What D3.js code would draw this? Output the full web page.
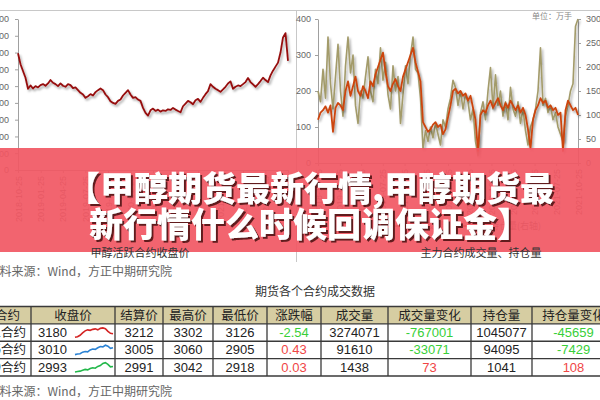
<!DOCTYPE html>
<html>
<head>
<meta charset="utf-8">
<script src="https://cdn.jsdelivr.net/npm/d3@7"></script>
<style>
    body { margin: 0; background: #fff; }
    svg { display: block; font-family: "Noto Sans CJK SC", sans-serif; }
    .axis path, .axis line { stroke: #a0a0a0; }
    .axis text { fill: #666; font-size: 9px; font-family: "Liberation Sans", Arial, sans-serif; }
</style>
<title></title>
</head>
<body>
<svg id="chart" width="600" height="400"></svg>
<script>
    // ---- data ----
    var quarterLabels = ['2018-10-25', '2019-01-25', '2019-04-25', '2019-07-25', '2019-10-25',
        '2020-01-25', '2020-04-25', '2020-07-25', '2020-10-25', '2021-01-25', '2021-04-25',
        '2021-07-25', '2021-10-25'];

    // 甲醇活跃合约收盘价
    var priceValues = [3480, 3150, 2950, 2750, 2420, 2520, 2430, 2500, 2460, 2530,
        2560, 2510, 2580, 2680, 2600, 2560, 2500, 2580, 2510, 2480,
        2560, 2530, 2440, 2460, 2380, 2300, 2250, 2150, 2200, 2260,
        2220, 2320, 2380, 2430, 2380, 2250, 2170, 2050, 2000, 1970,
        2060, 2100, 2220, 2300, 2380, 2250, 2150, 2170, 2100, 2060,
        1850, 1700, 1620, 1780, 1830, 1760, 1800, 1740, 1780, 1760,
        1810, 1790, 1850, 1800, 1760, 1720, 1900, 1980, 2060, 2020,
        1960, 2080, 2120, 2030, 2150, 2260, 2350, 2560, 2480, 2420,
        2380, 2330, 2400, 2480, 2580, 2640, 2420, 2480, 2520, 2500,
        2560, 2620, 2740, 2620, 2550, 2480, 2560, 2650, 2750, 2680,
        2620, 2820, 2960, 3080, 3200, 3500, 3950, 4080, 3250];

    // 主力合约成交量 (左轴, 万手)
    var volumeValues = [200, 170, 260, 180, 350, 220, 150, 240, 330, 200,
        130, 270, 350, 250, 300, 160, 110, 200, 180, 240,
        295, 200, 170, 260, 220, 320, 230, 280, 190, 150,
        270, 200, 240, 110, 190, 270, 220, 300, 350, 260,
        250, 180, 40, 90, 60, 100, 70, 110, 80, 50,
        120, 100, 150, 180, 230, 210, 160, 200, 150, 190,
        170, 120, 150, 60, 20, 140, 170, 120, 200, 265,
        150, 245, 160, 200, 130, 170, 120, 210, 150, 130,
        170, 110, 150, 90, 50, 100, 120, 150, 200, 320,
        160, 180, 140, 160, 120, 140, 100, 80, 60, 130,
        160, 200, 220, 380, 400];

    // 主力合约持仓量 (右轴, 万手)
    var holdValues = [90, 105, 110, 118, 105, 120, 65, 115, 125, 120,
        110, 150, 170, 140, 160, 180, 150, 140, 160, 150,
        135, 170, 160, 185, 200, 215, 230, 190, 160, 150,
        165, 175, 160, 150, 180, 195, 210, 225, 240, 210,
        190, 170, 85, 75, 65, 70, 80, 85, 75, 80,
        60, 70, 95, 120, 150, 155, 145, 150, 140, 145,
        130, 140, 115, 90, 25, 100, 110, 105, 120, 130,
        115, 125, 135, 120, 110, 125, 115, 130, 120, 110,
        120, 105, 115, 100, 70, 30, 90, 110, 120, 135,
        125, 130, 115, 120, 110, 115, 100, 105, 25, 110,
        130, 120, 110, 115, 100];

    // 期货各个合约成交数据
    var tableHeaders = ['合约', '收盘价', '结算价', '最高价', '最低价', '涨跌幅', '成交量', '成交量变化', '持仓量', '持仓量变化'];
    var contracts = ['2201合约', '2205合约', '2209合约'];
    var closePrices = [3180, 3010, 2993];
    var settlePrices = [3212, 3005, 2991];
    var highPrices = [3302, 3060, 3042];
    var lowPrices = [3126, 2905, 2918];
    var changePct = ['-2.54', '0.43', '0.03'];
    var volumes = [3274071, 91610, 1438];
    var volumeChanges = [-767001, -33071, 73];
    var holds = [1045077, 94095, 1041];
    var holdChanges = [-45659, -7429, 108];

    var sparkRed = [3000, 3010, 3040, 3090, 3130, 3150, 3140, 3160, 3170, 3150, 3180, 3190, 3175, 3120, 3080, 3070];
    var sparkBlue = [2700, 2720, 2730, 2780, 2800, 2790, 2850, 2880, 2870, 2920, 2960, 2950, 3000, 2970, 2900, 2920];
    var sparkGreen = [2700, 2710, 2720, 2740, 2760, 2750, 2780, 2800, 2790, 2830, 2850, 2900, 2920, 2880, 2820, 2830];

    // ---- setup ----
    var svg = d3.select('#chart');
    var parse = d3.timeParse('%Y-%m-%d');
    var fmt = d3.timeFormat('%Y-%m-%d');
    var quarterDates = quarterLabels.map(parse);
    var dateStart = quarterDates[0], dateEnd = quarterDates[quarterDates.length - 1];

    function withDates(values) {
        var step = (dateEnd - dateStart) / (values.length - 1);
        return values.map(function(v, i) {
            return { date: new Date(+dateStart + i * step), value: v };
        });
    }

    var defs = svg.append('defs');
    defs.append('filter').attr('id', 'lineShadow')
        .attr('x', '-5%').attr('y', '-5%').attr('width', '110%').attr('height', '120%')
        .append('feDropShadow')
        .attr('dx', 1.5).attr('dy', 2).attr('stdDeviation', 1)
        .attr('flood-color', '#000').attr('flood-opacity', 0.35);
    defs.append('filter').attr('id', 'textShadow')
        .append('feDropShadow')
        .attr('dx', 2).attr('dy', 2).attr('stdDeviation', 0.6)
        .attr('flood-color', '#4a1010').attr('flood-opacity', 0.85);

    // panel borders
    svg.append('line').attr('x1', 0).attr('x2', 600).attr('y1', 10.5).attr('y2', 10.5)
        .attr('stroke', '#c8c8c8');
    svg.append('line').attr('x1', 296.5).attr('x2', 296.5).attr('y1', 10.5).attr('y2', 262)
        .attr('stroke', '#c8c8c8');

    // ---- left chart: 甲醇活跃合约收盘价 ----
    var x1 = d3.scaleTime().domain([dateStart, dateEnd]).range([18, 288]);
    var y1 = d3.scaleLinear().domain([0, 4500]).range([170, 19]);

    svg.append('g').attr('class', 'axis')
        .attr('transform', 'translate(18,0)')
        .call(d3.axisLeft(y1).tickValues(d3.range(0, 4501, 500)).tickSize(3).tickSizeOuter(0).tickPadding(6));

    svg.append('g').attr('class', 'axis')
        .attr('transform', 'translate(0,170)')
        .call(d3.axisBottom(x1).tickValues(quarterDates).tickFormat(fmt).tickSize(3).tickSizeOuter(0))
        .selectAll('text')
        .attr('x', -6).attr('y', 0).attr('dy', '0.35em')
        .attr('transform', 'rotate(-90)')
        .style('text-anchor', 'end');

    svg.append('path')
        .datum(withDates(priceValues))
        .attr('fill', 'none')
        .attr('stroke', '#960f0f')
        .attr('stroke-width', 1.8)
        .attr('stroke-linejoin', 'round')
        .attr('filter', 'url(#lineShadow)')
        .attr('d', d3.line().x(function(d) { return x1(d.date); }).y(function(d) { return y1(d.value); }));

    // ---- right chart: 主力合约成交量、持仓量 ----
    var x2 = d3.scaleTime().domain([dateStart, dateEnd]).range([318, 578]);
    var y2 = d3.scaleLinear().domain([0, 400]).range([163, 19]);
    var y2r = d3.scaleLinear().domain([0, 300]).range([163, 19]);

    svg.append('g').attr('class', 'axis')
        .attr('transform', 'translate(318,0)')
        .call(d3.axisLeft(y2).tickValues(d3.range(0, 401, 100)).tickSize(3).tickSizeOuter(0).tickPadding(4));

    svg.append('g').attr('class', 'axis')
        .attr('transform', 'translate(578,0)')
        .call(d3.axisRight(y2r).tickValues(d3.range(0, 301, 50)).tickSize(3).tickSizeOuter(0).tickPadding(5));

    svg.append('g').attr('class', 'axis')
        .attr('transform', 'translate(0,163)')
        .call(d3.axisBottom(x2).tickValues(quarterDates).tickFormat(fmt).tickSize(3).tickSizeOuter(0))
        .selectAll('text')
        .attr('x', -6).attr('y', 0).attr('dy', '0.35em')
        .attr('transform', 'rotate(-90)')
        .style('text-anchor', 'end');

    svg.append('path')
        .datum(withDates(volumeValues))
        .attr('fill', 'none')
        .attr('stroke', '#a39b6a')
        .attr('stroke-width', 1.6)
        .attr('stroke-linejoin', 'round')
        .attr('filter', 'url(#lineShadow)')
        .attr('d', d3.line().x(function(d) { return x2(d.date); }).y(function(d) { return y2(d.value); }));

    svg.append('path')
        .datum(withDates(holdValues))
        .attr('fill', 'none')
        .attr('stroke', '#cc4510')
        .attr('stroke-width', 1.8)
        .attr('stroke-linejoin', 'round')
        .attr('filter', 'url(#lineShadow)')
        .attr('d', d3.line().x(function(d) { return x2(d.date); }).y(function(d) { return y2r(d.value); }));

    svg.append('text').attr('x', 572).attr('y', 19)
        .attr('text-anchor', 'end')
        .style('font-size', '8px').style('fill', '#888')
        .text('单位：万手');

    // legend of right chart (mostly hidden under the banner)
    var legend = svg.append('g').attr('transform', 'translate(0,226)');
    legend.append('line').attr('x1', 395).attr('x2', 415).attr('stroke', '#a39b6a').attr('stroke-width', 2);
    legend.append('text').attr('x', 418).attr('dy', '0.35em').style('font-size', '9px').style('fill', '#666').text('成交量');
    legend.append('line').attr('x1', 463).attr('x2', 487).attr('stroke', '#cc4510').attr('stroke-width', 2);
    legend.append('text').attr('x', 490).attr('dy', '0.35em').style('font-size', '9px').style('fill', '#666').text('持仓量(右轴)');

    // ---- red banner with title ----
    svg.append('rect')
        .attr('x', 0).attr('y', 148).attr('width', 600).attr('height', 104)
        .attr('fill', 'rgb(241,87,99)').attr('opacity', 0.92);

    var titleLines = ['【甲醇期货最新行情,甲醇期货最', '新行情什么时候回调保证金】'];
    svg.selectAll('text.title').data(titleLines).enter()
        .append('text').attr('class', 'title')
        .attr('x', 310)
        .attr('y', function(d, i) { return 186 + i * 36; })
        .attr('dominant-baseline', 'central')
        .attr('text-anchor', 'middle')
        .attr('filter', 'url(#textShadow)')
        .style('font-size', '34px').style('font-weight', 900).style('fill', '#fff')
        .text(function(d) { return d; });

    // chart captions under the banner
    svg.append('text').attr('x', 140).attr('y', 253).attr('dy', '0.35em').attr('text-anchor', 'middle')
        .style('font-size', '11px').style('fill', '#333').text('甲醇活跃合约收盘价');
    svg.append('text').attr('x', 481).attr('y', 253).attr('dy', '0.35em').attr('text-anchor', 'middle')
        .style('font-size', '11px').style('fill', '#333').text('主力合约成交量、持仓量');

    svg.selectAll('text.source').data([272, 392]).enter()
        .append('text').attr('class', 'source')
        .attr('x', -12.5).attr('y', function(d) { return d; }).attr('dy', '0.35em')
        .style('font-size', '12px').style('fill', '#666')
        .text('资料来源：Wind，方正中期研究院');

    svg.append('text').attr('x', 315).attr('y', 292).attr('dy', '0.35em').attr('text-anchor', 'middle')
        .style('font-size', '12px').style('fill', '#333').text('期货各个合约成交数据');

    // ---- table ----
    var colEdges = [-25, 31, 115, 163, 213, 267, 321, 388, 471, 532, 615];
    var rowY = d3.scaleBand().domain(['head', 0, 1, 2]).range([306.5, 376]);
    var table = svg.append('g');

    table.append('rect')
        .attr('x', colEdges[0]).attr('y', rowY('head'))
        .attr('width', colEdges[colEdges.length - 1] - colEdges[0]).attr('height', rowY.bandwidth())
        .attr('fill', '#d6cda2');

    var rowLines = rowY.domain().map(function(r) { return rowY(r); }).concat([376]);
    table.selectAll('line.h').data(rowLines).enter()
        .append('line').attr('class', 'h')
        .attr('x1', colEdges[0]).attr('x2', colEdges[colEdges.length - 1])
        .attr('y1', function(d) { return d; }).attr('y2', function(d) { return d; })
        .attr('stroke', '#3a3a3a').attr('stroke-width', 1.3);
    table.selectAll('line.v').data(colEdges).enter()
        .append('line').attr('class', 'v')
        .attr('x1', function(d) { return d; }).attr('x2', function(d) { return d; })
        .attr('y1', 306.5).attr('y2', 376)
        .attr('stroke', '#3a3a3a').attr('stroke-width', 1.3);

    function colCenter(c) { return (colEdges[c] + colEdges[c + 1]) / 2; }
    function rowCenter(r) { return rowY(r) + rowY.bandwidth() / 2; }

    table.selectAll('text.head').data(tableHeaders).enter()
        .append('text').attr('class', 'head')
        .attr('x', function(d, i) { return i === 0 ? 20 : colCenter(i); })
        .attr('y', rowCenter('head')).attr('dy', '0.35em')
        .attr('text-anchor', function(d, i) { return i === 0 ? 'end' : 'middle'; })
        .style('font-size', '12.5px').style('fill', '#222')
        .text(function(d) { return d; });

    var green = '#38cf38', red = '#f04646';
    var numFont = '"Liberation Sans Narrow", "Liberation Sans", Arial, sans-serif';
    var sparkData = [sparkRed, sparkBlue, sparkGreen];
    var sparkColors = ['#d42424', '#2a82d4', '#22b84a'];

    contracts.forEach(function(name, r) {
        var cy = rowCenter(r);
        var cells = [
            { c: 2, t: settlePrices[r] },
            { c: 3, t: highPrices[r] },
            { c: 4, t: lowPrices[r] },
            { c: 5, t: changePct[r], col: +changePct[r] < 0 ? green : red },
            { c: 6, t: volumes[r] },
            { c: 7, t: volumeChanges[r], col: volumeChanges[r] < 0 ? green : red },
            { c: 8, t: holds[r] },
            { c: 9, t: holdChanges[r], col: holdChanges[r] < 0 ? green : red }
        ];
        table.append('text').attr('x', 26).attr('y', cy).attr('dy', '0.35em')
            .attr('text-anchor', 'end').style('font-size', '12.5px').style('fill', '#222').text(name);
        table.append('text').attr('x', 38).attr('y', cy).attr('dy', '0.35em')
            .style('font-size', '13px').style('font-family', numFont).style('fill', '#222')
            .text(closePrices[r]);
        cells.forEach(function(cell) {
            table.append('text').attr('x', colCenter(cell.c)).attr('y', cy).attr('dy', '0.35em')
                .attr('text-anchor', 'middle')
                .style('font-size', '13px').style('font-family', numFont)
                .style('fill', cell.col || '#222')
                .text(cell.t);
        });

        // sparkline inside the 收盘价 cell
        var vals = sparkData[r];
        var sx = d3.scaleLinear().domain([0, vals.length - 1]).range([75, 113]);
        var sy = d3.scaleLinear().domain(d3.extent(vals)).range([rowY(r) + rowY.bandwidth() - 4, rowY(r) + 4]);
        table.append('path').datum(vals)
            .attr('fill', 'none').attr('stroke', sparkColors[r]).attr('stroke-width', 1.6)
            .attr('d', d3.line().x(function(d, i) { return sx(i); }).y(function(d) { return sy(d); }));
    });
</script>
</body>
</html>
